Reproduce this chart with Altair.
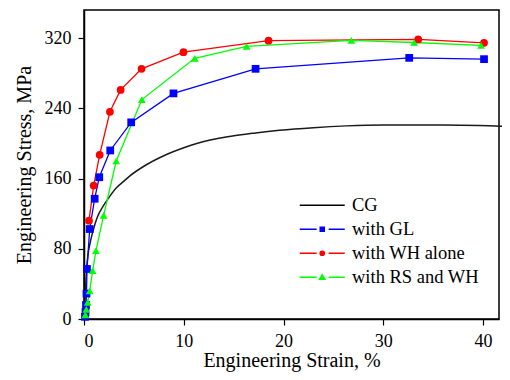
import altair as alt
import pandas as pd

series_names = ["CG", "with GL", "with WH alone", "with RS and WH"]
series_colors = ["#000000", "#0000ff", "#ff0000", "#00ff00"]

cg_strain = [0, 0.1, 0.2, 0.3, 0.4, 0.6, 0.9, 1.3, 2.0, 2.6, 3.3, 4.0, 4.6, 6, 8, 10,
             11.3, 14.6, 17.2, 19.6, 23, 26.3, 30, 33, 36, 39.6, 42]
cg_stress = [0, 22, 45, 62, 73, 86, 100, 115, 130, 140, 150, 157, 163, 174, 186, 195,
             200, 208, 212, 215, 218, 220, 221, 221, 221, 220.5, 219.5]

gl_strain = [0.1, 0.15, 0.2, 0.25, 0.3, 0.57, 1.07, 1.53, 2.63, 4.73, 8.97, 17.2, 32.6, 40.1]
gl_stress = [2.5, 8, 16, 29, 57, 102.5, 137, 161.5, 192, 224, 257, 285, 297.5, 296]

wh_strain = [0.5, 0.97, 1.57, 2.6, 3.67, 5.77, 9.97, 18.5, 33.5, 40.1]
wh_stress = [112, 152, 187, 236, 261, 285, 304, 317, 318.5, 314.6]

rs_strain = [0.13, 0.23, 0.37, 0.57, 0.87, 1.2, 1.97, 3.23, 5.8, 11.1, 16.3, 26.8, 33.1, 39.8]
rs_stress = [4.6, 11, 19, 32, 55, 78, 118, 180, 250, 297, 310.5, 317.3, 315, 311.6]

x_ticks = [0, 10, 20, 30, 40]
y_ticks = [0, 80, 160, 240, 320]

marker_shapes = ["square", "circle", "triangle-up"]

# legend glyphs: "line - marker - line"; markers drawn solid with stroke-only sub-paths
legend_paths = [
    "M-3,0H3",
    "M-3,0H-0.75M0.85,0H3M-0.27,-0.27H0.27V0.27H-0.27ZM-0.27,-0.09H0.27M-0.27,0.09H0.27",
    "M-3,0H-0.75M0.85,0H3M-0.28,0A0.28,0.28,0,1,0,0.28,0A0.28,0.28,0,1,0,-0.28,0Z"
    "M-0.09,0A0.09,0.09,0,1,0,0.09,0A0.09,0.09,0,1,0,-0.09,0Z",
    "M-3,0H-0.75M0.85,0H3M0,-0.33L0.36,0.26L-0.36,0.26ZM0,-0.08L0.14,0.14L-0.14,0.14Z",
]

rows = []
for name, xs, ys in [("CG", cg_strain, cg_stress), ("with GL", gl_strain, gl_stress),
                     ("with WH alone", wh_strain, wh_stress), ("with RS and WH", rs_strain, rs_stress)]:
    for i, (a, b) in enumerate(zip(xs, ys)):
        rows.append({"series": name, "strain": a, "stress": b, "idx": i})
df = pd.DataFrame(rows)

FONT = "Liberation Serif, Times New Roman, DejaVu Serif, serif"

x_enc = alt.X("strain:Q", scale=alt.Scale(domain=[0, 41.6], nice=False, zero=False),
              axis=alt.Axis(values=x_ticks, title="Engineering Strain, %", grid=False,
                            tickSize=6, labelPadding=7, titlePadding=0, format="d",
                            labelFont=FONT, labelFontSize=18, labelColor="black",
                            titleFont=FONT, titleFontSize=20, titleFontWeight=400,
                            titleColor="black"))
y_enc = alt.Y("stress:Q", scale=alt.Scale(domain=[0, 352], nice=False, zero=False),
              axis=alt.Axis(values=y_ticks, title="Engineering Stress, MPa", grid=False,
                            tickSize=6, labelPadding=7, titlePadding=10, format="d",
                            labelFont=FONT, labelFontSize=18, labelColor="black",
                            titleFont=FONT, titleFontSize=20, titleFontWeight=400,
                            titleColor="black"))

base = alt.Chart(df)

layers = [
    base.transform_filter(alt.datum.series == series_names[0]).mark_line(
        interpolate="monotone", strokeWidth=1.5, color="#1a1a1a"
    ).encode(x=x_enc, y=y_enc, order="idx:Q")
]
for name, col, shp in zip(series_names[1:], series_colors[1:], marker_shapes):
    sub = base.transform_filter(alt.datum.series == name)
    layers.append(sub.mark_line(strokeWidth=1.3, color=col).encode(x=x_enc, y=y_enc, order="idx:Q"))
for name, col, shp in zip(series_names[1:], series_colors[1:], marker_shapes):
    sub = base.transform_filter(alt.datum.series == name)
    layers.append(sub.mark_point(shape=shp, filled=True, size=60, opacity=1, color=col)
                  .encode(x=x_enc, y=y_enc))

leg = alt.Legend(title=None, orient="none", legendX=229, legendY=186, padding=0,
                 symbolSize=225, symbolStrokeWidth=1.5, symbolOpacity=1, labelOffset=20.5,
                 rowPadding=5, labelFont=FONT, labelFontSize=18.5, labelColor="black",
                 labelLimit=300)

legend_layer = base.mark_point(size=225, opacity=0, filled=False).encode(
    x=x_enc, y=y_enc,
    color=alt.Color("series:N", scale=alt.Scale(domain=series_names, range=series_colors), legend=leg),
    shape=alt.Shape("series:N", scale=alt.Scale(domain=series_names, range=legend_paths), legend=leg),
)
layers.append(legend_layer)

chart = alt.layer(*layers).properties(
    width=415, height=309,
    autosize=alt.AutoSizeParams(type="none"),
    padding={"left": 76, "top": 2, "right": 3, "bottom": 53},
    background="white",
).configure(font=FONT).configure_view(stroke="black", strokeWidth=1.5).configure_axis(
    domainColor="black", domainWidth=1.5, tickColor="black", tickWidth=1.2,
    labelFont=FONT, titleFont=FONT,
)

chart.save("out.html", embed_options={"renderer": "svg", "actions": False})
